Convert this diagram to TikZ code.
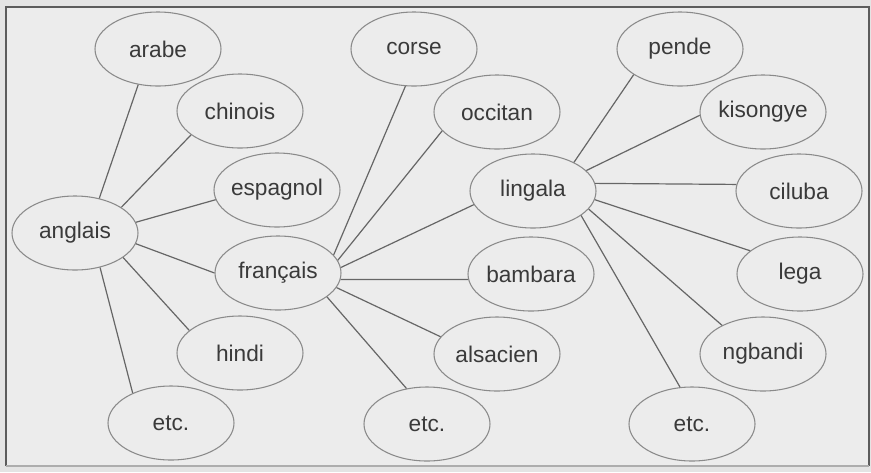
\documentclass[tikz,border=0pt]{standalone}
\usepackage{fontspec}
\setmainfont{Liberation Sans}
\usetikzlibrary{shapes.geometric}
\definecolor{pagebg}{HTML}{E4E4E4}
\definecolor{panelbg}{HTML}{ECECEC}
\definecolor{framecol}{HTML}{5C5C5C}
\definecolor{ovalcol}{HTML}{8A8A8A}
\definecolor{linkcol}{HTML}{666666}
\definecolor{labelcol}{HTML}{3A3A3A}
\tikzset{
  lang/.style={ellipse, draw=ovalcol, line width=0.8pt, inner ysep=0pt, inner xsep=-2pt,
    minimum width=94.5pt, minimum height=55.5pt, text=labelcol,
    font=\fontsize{17}{20}\selectfont},
  link/.style={draw=linkcol, line width=0.9pt}
}
\begin{document}
\begin{tikzpicture}[x=0.75pt, y=-0.75pt]
  % page and framed panel
  \useasboundingbox (0,0) rectangle (871,472);
  \fill[pagebg] (0,0) rectangle (871,472);
  \fill[panelbg] (6,7) rectangle (869,466);
  \draw[framecol, line width=1.5pt] (6,466) -- (6,7) -- (869,7) -- (869,466);
  \draw[framecol!50, line width=1pt] (6,466) -- (869,466);

  % hubs
  \node[lang] (anglais)  at (75,233)  {anglais};
  \node[lang] (francais) at (278,273) {français};
  \node[lang] (lingala)  at (533,191) {lingala};

  % languages around anglais
  \node[lang] (arabe)    at (158,49)  {arabe};
  \node[lang] (chinois)  at (240,111) {chinois};
  \node[lang] (espagnol) at (277,190) {espagnol};
  \node[lang] (hindi)    at (240,353) {hindi};
  \node[lang] (etcA)     at (171,423) {etc.};

  % languages around français
  \node[lang] (corse)    at (414,49)  {corse};
  \node[lang] (occitan)  at (497,112) {occitan};
  \node[lang] (bambara)  at (531,274) {bambara};
  \node[lang] (alsacien) at (497,354) {alsacien};
  \node[lang] (etcB)     at (427,424) {etc.};

  % languages around lingala
  \node[lang] (pende)    at (680,49)  {pende};
  \node[lang] (kisongye) at (763,112) {kisongye};
  \node[lang] (ciluba)   at (799,191) {ciluba};
  \node[lang] (lega)     at (800,274) {lega};
  \node[lang] (ngbandi)  at (763,354) {ngbandi};
  \node[lang] (etcC)     at (692,424) {etc.};

  % links from anglais
  \draw[link] (anglais.55)  -- (arabe.241);
  \draw[link] (anglais.29)  -- (chinois.206);
  \draw[link] (anglais.10)  -- (espagnol.189);
  \draw[link] (anglais.350) -- (francais.180);
  \draw[link] (anglais.333) -- (hindi.156);
  \draw[link] (anglais.306) -- (etcA.142);

  % links from français
  \draw[link] (francais.18)  -- (corse.257);
  \draw[link] (francais.12)  -- (occitan.199);
  \draw[link] (francais.5)   -- (lingala.193);
  \draw[link] (francais.354) -- (bambara.185);
  \draw[link] (francais.346) -- (alsacien.163);
  \draw[link] (francais.334) -- (etcB.120);

  % links from lingala
  \draw[link] (lingala.35)  -- (pende.209);
  \draw[link] (lingala.21)  -- (kisongye.183);
  \draw[link] (lingala.7)   -- (ciluba.174);
  \draw[link] (lingala.352) -- (lega.155);
  \draw[link] (lingala.342) -- (ngbandi.145);
  \draw[link] (lingala.333) -- (etcC.108);
\end{tikzpicture}
\end{document}
